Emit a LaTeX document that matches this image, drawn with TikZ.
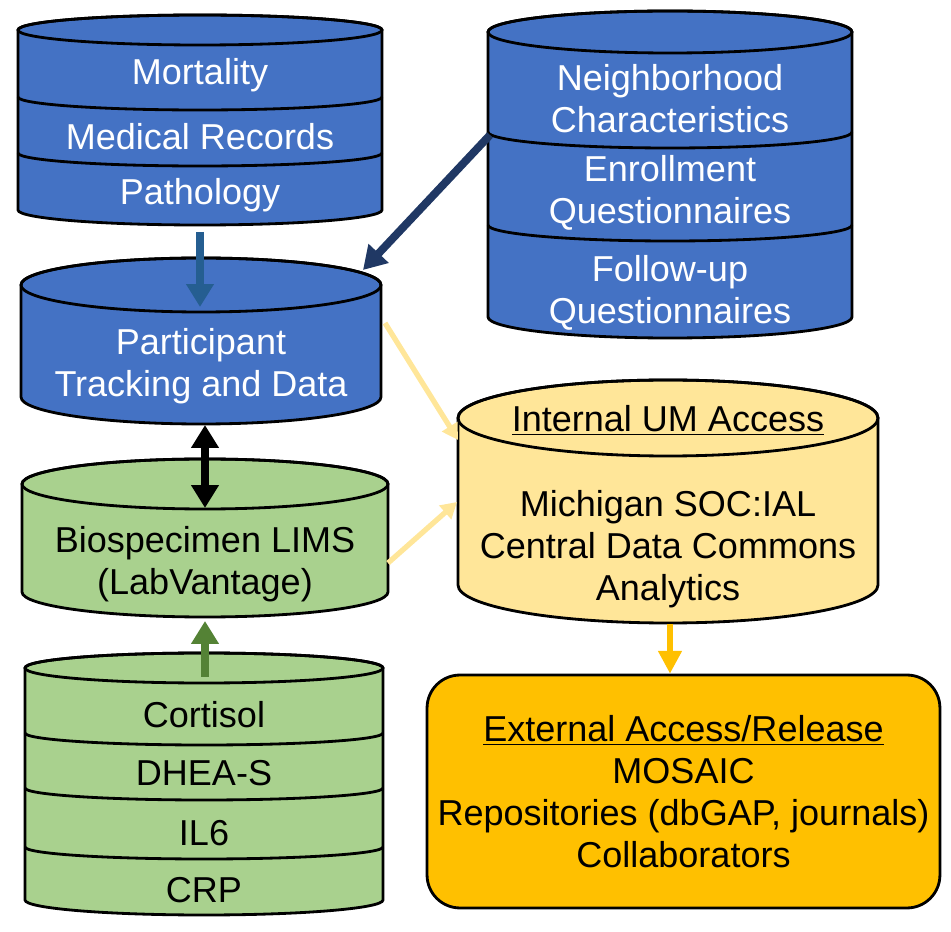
\documentclass[tikz,border=0pt]{standalone}
\usepackage{fontspec}
\setmainfont{Liberation Sans}
\usetikzlibrary{arrows.meta}

\definecolor{dbblue}{HTML}{4472C4}
\definecolor{dbgreen}{HTML}{A9D18E}
\definecolor{dbcream}{HTML}{FFE699}
\definecolor{dbgold}{HTML}{FFC000}
\definecolor{arrblue}{HTML}{255E91}
\definecolor{arrnavy}{HTML}{203864}
\definecolor{arrgreen}{HTML}{548235}

% cylinder: fill, cx, rx, ry, y of top ellipse, y of bottom ellipse
\newcommand{\drum}[6]{%
  \filldraw [fill=#1] ({#2-#3},#5) -- ({#2-#3},#6)
    arc [start angle=180, end angle=360, x radius=#3, y radius=#4]
    -- ({#2+#3},#5)
    arc [start angle=0, end angle=180, x radius=#3, y radius=#4] -- cycle;
  \draw (#2,#5) ellipse [x radius=#3, y radius=#4];
}
% band line across a cylinder: cx, rx, ry, y
\newcommand{\band}[4]{%
  \draw ({#1-#2},#4) arc [start angle=180, end angle=360, x radius=#2, y radius=#3];
}

\begin{document}
\begin{tikzpicture}[x=0.02cm, y=0.02cm, line width=1.6pt,
    lbl/.style={align=center, font=\fontsize{20.5}{23.8}\selectfont},
    wlbl/.style={lbl, text=white},
    flow/.style={line width=4pt, -{Triangle[width=15pt,length=13pt]}}]
  \useasboundingbox (0,0) rectangle (951,931);

  % blue sources
  \drum{dbblue}{200}{182}{15}{901}{721}
  \foreach \y in {834,778} {\band{200}{182}{13}{\y}}
  \node [wlbl] (mort) at (200,856) {Mortality};
  \node [wlbl] (medrec) at (200,794) {Medical Records};
  \node [wlbl] (path) at (200,736) {Pathology};

  \drum{dbblue}{670}{182}{21}{899}{614}
  \foreach \y in {799,706} {\band{670}{182}{16}{\y}}
  \node [wlbl] (nbhd) at (670,832) {Neighborhood\\Characteristics};
  \node [wlbl] (enrol) at (670,738) {Enrollment\\Questionnaires};
  \node [wlbl] (follow) at (670,638) {Follow-up\\Questionnaires};

  \drum{dbblue}{201}{180}{27}{646}{534}
  \node [wlbl] (track) at (201,565) {Participant\\Tracking and Data};

  % green biospecimens
  \drum{dbgreen}{205}{183}{25}{447}{339}
  \node [lbl] (lims) at (205,367) {Biospecimen LIMS\\(LabVantage)};

  \drum{dbgreen}{204}{179}{15}{263}{31}
  \foreach \y in {198,143,84} {\band{204}{179}{12}{\y}}
  \node [lbl] (cort) at (204,216) {Cortisol};
  \node [lbl] (dhea) at (204,158) {DHEA-S};
  \node [lbl] (il6) at (204,98) {IL6};
  \node [lbl] (crp) at (204,41) {CRP};

  % access
  \drum{dbcream}{668}{210}{38}{513}{346}
  \node [lbl] (internal) at (668,511) {\underline{Internal UM Access}};
  \node [lbl] (social) at (668,382) {Michigan SOC:IAL\\Central Data Commons\\Analytics};

  \node [lbl, draw, fill=dbgold, rounded corners=0.66cm,
    minimum width=10.26cm, minimum height=4.66cm] (ext) at (683.5,139.5)
    {\underline{External Access/Release}\\MOSAIC\\Repositories (dbGAP, journals)\\Collaborators};

  % connector ends
  \coordinate (mortS) at (200,699);
  \coordinate (trackN) at (200,624);
  \coordinate (nbhdW) at (490,796);
  \coordinate (trackNE) at (363,661);
  \coordinate (trackS) at (205,506);
  \coordinate (limsN) at (205,423);
  \coordinate (bioN) at (205,254);
  \coordinate (limsS) at (205,310);
  \coordinate (trackE) at (385,608);
  \coordinate (ialW) at (458,491);
  \coordinate (limsE) at (388,368);
  \coordinate (ialSW) at (457,429);
  \coordinate (ialS) at (670,307);

  \draw [flow, arrblue] (mortS) -- (trackN);
  \draw [flow, arrnavy, line width=4.5pt] (nbhdW) -- (trackNE);
  \draw [flow, black, {Triangle[width=15pt,length=13pt]}-{Triangle[width=15pt,length=13pt]}] (trackS) -- (limsN);
  \draw [flow, arrgreen] (bioN) -- (limsS);
  \draw [dbcream, line width=3pt, -{Triangle[width=10pt,length=9pt]}] (trackE) -- (ialW);
  \draw [dbcream, line width=3pt, -{Triangle[width=10pt,length=9pt]}] (limsE) -- (ialSW);
  \draw [dbgold, line width=3pt, -{Triangle[width=13pt,length=13pt]}] (ialS) -- (ialS |- ext.north);
\end{tikzpicture}
\end{document}
